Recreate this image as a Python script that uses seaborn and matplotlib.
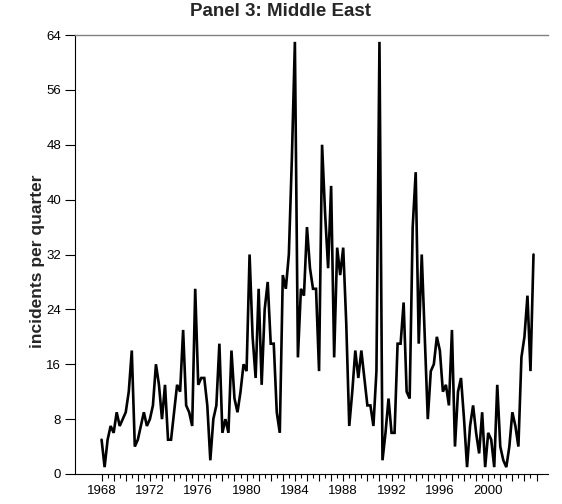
import numpy as np
import pandas as pd
import seaborn as sns
import matplotlib.pyplot as plt
from matplotlib.ticker import FixedLocator, FuncFormatter

sns.set_theme(style="ticks")
plt.rcParams['font.family'] = ['Liberation Sans', 'DejaVu Sans']

# Quarterly transnational terrorist incidents, Middle East, 1968Q1-2003Q4
start_year = 1968
incidents = [
    5, 1, 5, 7, 6, 9, 7, 8, 9, 12, 18, 4, 5, 7, 9, 7,          # 1968-1971
    8, 10, 16, 13, 8, 13, 5, 5, 9, 13, 12, 21, 10, 9, 7, 27,   # 1972-1975
    13, 14, 14, 10, 2, 8, 10, 19, 6, 8, 6, 18, 11, 9, 12, 16,  # 1976-1979
    15, 32, 20, 14, 27, 13, 24, 28, 19, 19, 9, 6, 29, 27, 32, 46,  # 1980-1983
    63, 17, 27, 26, 36, 30, 27, 27, 15, 48, 38, 30, 42, 17, 33, 29,  # 1984-1987
    33, 22, 7, 12, 18, 14, 18, 14, 10, 10, 7, 15, 63, 2, 6, 11,  # 1988-1991
    6, 6, 19, 19, 25, 12, 11, 36, 44, 19, 32, 20, 8, 15, 16, 20,  # 1992-1995
    18, 12, 13, 10, 21, 4, 12, 14, 8, 1, 7, 10, 6, 3, 9, 1,      # 1996-1999
    6, 5, 1, 13, 4, 2, 1, 4, 9, 7, 4, 17, 20, 26, 15, 32,        # 2000-2003
]
year_labels = [1968, 1972, 1976, 1980, 1984, 1988, 1992, 1996, 2000]
y_ticks = [0, 8, 16, 24, 32, 40, 48, 56, 64]

quarter_index = np.arange(len(incidents))
df = pd.DataFrame({
    "time": start_year + quarter_index / 4.0,
    "incidents": incidents,
})

fig = plt.figure(figsize=(5.62, 5.04), dpi=100)
ax = fig.add_axes([75 / 562, 30 / 504, 473 / 562, 439 / 504])

sns.lineplot(data=df, x="time", y="incidents", ax=ax, color="black",
             linewidth=1.9, solid_joinstyle="miter")

ax.set_xlim(1965.8, 2004.95)
ax.set_ylim(0, 64)

# yearly ticks with labels every fourth year, half-year minor ticks
ax.xaxis.set_major_locator(FixedLocator(np.arange(1968, 2005, 1)))
ax.xaxis.set_minor_locator(FixedLocator(np.arange(1968.5, 2004.5, 1)))
ax.xaxis.set_major_formatter(FuncFormatter(
    lambda v, p: str(int(round(v))) if int(round(v)) in year_labels else ""))
ax.yaxis.set_major_locator(FixedLocator(y_ticks))

ax.tick_params(axis="x", which="major", length=5, width=0.8, colors="black",
               labelsize=9.5, pad=3)
ax.tick_params(axis="x", which="minor", length=3, width=0.8, colors="black")
ax.tick_params(axis="y", which="major", length=7, width=0.8, colors="black",
               labelsize=9.5, pad=3)

ax.set_xlabel("")
ax.set_ylabel("incidents per quarter", fontsize=12.5, fontweight="bold")
ax.yaxis.set_label_coords(-0.063, 0.485)

for side in ("left", "bottom"):
    ax.spines[side].set_color("black")
    ax.spines[side].set_linewidth(0.8)
ax.spines["right"].set_visible(False)
ax.spines["top"].set_color("#808080")
ax.spines["top"].set_linewidth(1.0)
ax.grid(False)

fig.text(0.5, 1 - 12 / 504, "Panel 3: Middle East", ha="center", va="center",
         fontsize=13.5, fontweight="bold")

fig.savefig("out.png", dpi=100)
